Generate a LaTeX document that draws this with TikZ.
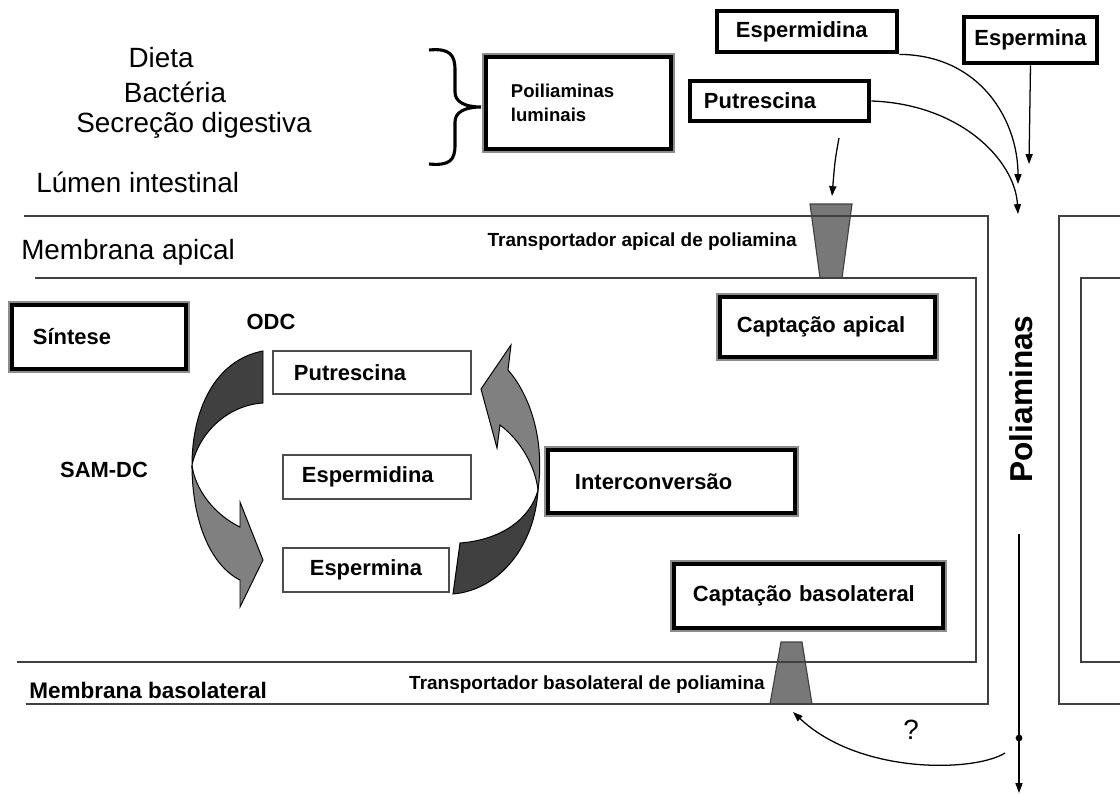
\documentclass[tikz,border=0pt]{standalone}
\usepackage{fontspec}
\setmainfont{Liberation Sans}
\usetikzlibrary{arrows.meta}

\tikzset{
  membrane/.style={draw=black!75, line width=1.2pt},
  transporter/.style={fill=black!53, draw=black!75, line width=0.8pt},
  bigtxt/.style={inner sep=0pt, font=\fontsize{19.8}{22}\selectfont},
  boldtxt/.style={inner sep=0pt, font=\fontsize{15.6}{18}\selectfont\bfseries},
  smalltxt/.style={inner sep=0pt, font=\fontsize{13.5}{16}\selectfont\bfseries},
  heavybox/.style={draw=black, line width=3.4pt, fill=white, inner ysep=0pt,
    font=\fontsize{15.6}{18}\selectfont\bfseries},
  framebox/.style={draw=black, line width=2.6pt, fill=white, inner ysep=0pt,
    preaction={draw=black!45, line width=5pt},
    font=\fontsize{15.6}{18}\selectfont\bfseries},
  cellbox/.style={draw=black!70, line width=1.2pt, fill=white, inner ysep=0pt,
    font=\fontsize{15.6}{18}\selectfont\bfseries},
  leftpad/.style 2 args={inner xsep=#1, text width=#2, align=left},
  flow/.style={->, line width=0.9pt},
  backband/.style={fill=black!75, draw=black, line width=0.7pt},
  frontband/.style={fill=black!50, draw=black, line width=0.7pt},
}

\begin{document}
\begin{tikzpicture}[x=0.025cm, y=-0.025cm, >={Triangle[length=7pt,width=5pt]}]
  \useasboundingbox (0,0) rectangle (1120,795);

  % transportadores
  \draw[transporter] (810,204) -- (852,204) -- (842,278) -- (820,278) -- cycle;
  \draw[transporter] (781,642) -- (802,642) -- (812,704) -- (770,704) -- cycle;

  % membranas
  \draw[membrane] (24,216) -- (988,216) -- (988,704) -- (26,704);
  \draw[membrane] (35,278) -- (976,278) -- (976,662) -- (17,662);
  \draw[membrane] (1120,216) -- (1059,216) -- (1059,704) -- (1120,704);
  \draw[membrane] (1120,278) -- (1081,278) -- (1081,662) -- (1120,662);

  % lumen
  \node[bigtxt] (dieta) at (161,58) {Dieta};
  \node[bigtxt] (bacteria) at (175,92) {Bactéria};
  \node[bigtxt] (secrecao) at (194,125) {Secreção digestiva};
  \node[bigtxt, anchor=west] (lumen) at (36,182) {Lúmen intestinal};
  \node[bigtxt, anchor=west] (apical) at (21,252) {Membrana apical};
  \node[boldtxt, anchor=west, font=\fontsize{16}{18}\selectfont\bfseries] (basolat) at (29,690) {Membrana basolateral};
  \draw[line width=2.2pt] (429,50) .. controls (450,48) and (455,55) .. (455,70) -- (455,92)
    .. controls (455,102) and (465,107) .. (481,107)
    .. controls (465,107) and (455,112) .. (455,122) -- (455,145)
    .. controls (455,160) and (450,166) .. (429,164);
  \node[framebox, leftpad={0.625cm}{3.375cm}, minimum height=2.3cm,
    font=\fontsize{13.2}{17}\selectfont\bfseries] (luminais) at (578.5,103) {Poiliaminas\\luminais};

  \node[heavybox, leftpad={0.475cm}{3.55cm}, minimum height=1.025cm] (espmdTop) at (807,31.5) {Espermidina};
  \node[heavybox, minimum width=3.325cm, minimum height=1.15cm] (espmTop) at (1030.5,40) {Espermina};
  \node[heavybox, leftpad={0.35cm}{3.775cm}, minimum height=1cm] (putrTop) at (779.5,101) {Putrescina};

  \node[smalltxt, anchor=east] (apTrans) at (797,242) {Transportador apical de poliamina};
  \node[smalltxt, anchor=east] (blTrans) at (765,685) {Transportador basolateral de poliamina};

  \coordinate (inA) at (1018,214);
  \coordinate (inB) at (1018,184);
  \coordinate (inC) at (1029,164);
  \coordinate (putrGap) at (839,138);
  \coordinate (apTop) at (832,196);
  \draw[flow] (espmdTop.south east) .. controls (980,55) and (1018,120) .. (inB);
  \draw[flow] (putrTop.east) .. controls (960,104) and (1015,160) .. (inA);
  \draw[flow] (espmTop.south) -- (inC);
  \draw[flow] (putrGap) .. controls (835,160) .. (apTop);

  % celula
  \node[framebox, leftpad={0.525cm}{3.3cm}, minimum height=1.6cm] (sintese) at (99,337) {Síntese};
  \node[boldtxt] (odc) at (271,322) {ODC};
  \node[boldtxt] (samdc) at (104,470) {SAM-DC};
  \node[cellbox, leftpad={0.525cm}{3.9cm}, minimum height=1.075cm] (putr) at (372,372.5) {Putrescina};
  \node[cellbox, leftpad={0.475cm}{3.75cm}, minimum height=1.1cm] (espmd) at (377,477) {Espermidina};
  \node[cellbox, minimum width=4.15cm, minimum height=1.1cm] (espm) at (366,570) {Espermina};

  \fill[backband] (263,351) .. controls (215,360) and (192,410) .. (192,465)
    .. controls (200,430) and (230,405) .. (263,403) -- cycle;
  \fill[frontband] (192,465) .. controls (192,520) and (210,565) .. (240,580) -- (240,607)
    -- (263,560) -- (240,502) -- (240,527) .. controls (215,515) and (195,490) .. (192,465) -- cycle;
  \fill[backband] (538,490) .. controls (535,545) and (500,590) .. (453,594) -- (460,543)
    .. controls (500,540) and (530,520) .. (538,490) -- cycle;
  \fill[frontband] (538,490) .. controls (545,440) and (530,395) .. (508,370) -- (511,345)
    -- (481,389) -- (497,448) -- (500,425) .. controls (520,440) and (535,465) .. (538,490) -- cycle;

  \node[framebox, leftpad={0.675cm}{4.825cm}, minimum height=1.575cm] (intercon) at (671.5,481.5) {Interconversão};
  \node[framebox, leftpad={0.425cm}{4.525cm}, minimum height=1.5cm] (captApical) at (827.5,327) {Captação apical};
  \node[framebox, leftpad={0.475cm}{5.775cm}, minimum height=1.6cm] (captBasol) at (808.5,596) {Captação basolateral};

  % saida
  \node[rotate=90, inner sep=0pt, font=\fontsize{22.5}{26}\selectfont\bfseries] (poliaminas) at (1021,399) {Poliaminas};
  \coordinate (polyStart) at (1019,534);
  \coordinate (polyEnd) at (1019,793);
  \coordinate (qStart) at (1005,753);
  \coordinate (blBottom) at (793,712);
  \draw[flow] (polyStart) -- (polyEnd);
  \fill (1019,738) circle (2.4pt);
  \draw[line width=1.8pt] (1019,723) -- (1019,738);
  \draw[flow] (qStart) .. controls (975,772) and (860,775) .. (blBottom);
  \node[bigtxt] (question) at (911,730) {?};
\end{tikzpicture}
\end{document}
